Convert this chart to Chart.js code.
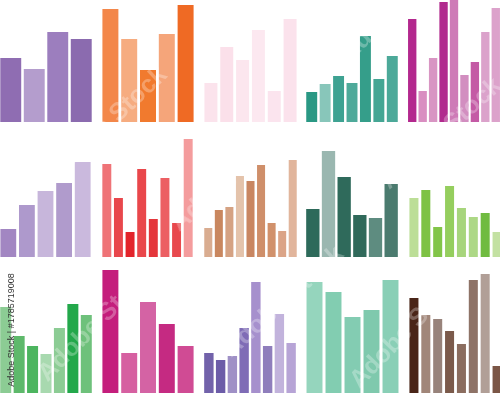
<!DOCTYPE html>
<html>
<head>
<meta charset="utf-8">
<script src="https://cdn.jsdelivr.net/npm/chart.js@4/dist/chart.umd.min.js"></script>
<style>
  html, body { margin:0; padding:0; background:#ffffff; }
  #stage { position:relative; width:500px; height:393px; overflow:hidden; background:#ffffff; }
  #stage canvas { position:absolute; }
  .wm { position:absolute; font-family:"Liberation Sans", Arial, sans-serif; font-weight:bold; font-size:25px;
        color:rgba(255,255,255,0.28); white-space:nowrap; transform-origin:center center; pointer-events:none; }
  #credit { position:absolute; left:11px; top:330px; transform:translate(-50%,-50%) rotate(-90deg);
        font-family:"Liberation Sans", Arial, sans-serif; font-size:9px; color:#333; white-space:nowrap; }
</style>
</head>
<body>
<div id="stage"></div>
<script>
// ---- data: bar heights (pixel units) ----
const panel1Values  = [64, 53, 90, 83];
const panel1Colors  = ['#8F6DB2','#B49DCD','#9C7EBE','#8B6BAF'];
const panel2Values  = [113, 83, 52, 88, 117];
const panel2Colors  = ['#F3874A','#F6AC80','#F17A2E','#F5A57A','#EF6A24'];
const panel3Values  = [39, 75, 62, 92, 31, 103];
const panel3Colors  = ['#FBE3EC','#FBE0EA','#FCE6EE','#FCE8F0','#FBE4EE','#FBE2EC'];
const panel4Values  = [30, 38, 46, 39, 86, 43, 66];
const panel4Colors  = ['#2A9884','#88C6BA','#3EA292','#4EAA9A','#359E8A','#45A694','#4CA999'];
const panel5Values  = [103, 31, 64, 120, 122, 47, 60, 90, 114];
const panel5Colors  = ['#B3288E','#D98EC1','#D895C3','#B12A8E','#CE7BB7','#D28EC0','#C45AA5','#DBA2CB','#DCA2CB'];

const panel6Values  = [28, 52, 66, 74, 95];
const panel6Colors  = ['#A286C2','#AE99CC','#C7B6DB','#B09BCC','#CAB9DD'];
const panel7Values  = [93, 59, 25, 88, 38, 79, 34, 118];
const panel7Colors  = ['#EF7377','#E8474C','#E3242B','#E9474B','#E4363B','#EC5F63','#E8494E','#F49C9D'];
const panel8Values  = [29, 47, 50, 81, 76, 92, 34, 26, 97];
const panel8Colors  = ['#D9AC90','#C9875F','#D5A283','#E4C3AB','#C98661','#CF8F6A','#D1916B','#DBA487','#E1B59C'];
const panel9Values  = [48, 106, 80, 42, 39, 73];
const panel9Colors  = ['#2D6A5A','#9AB7B0','#2F6A5B','#30695A','#5E8C80','#4B7B6F'];
const panel10Values = [59, 67, 30, 71, 49, 40, 44, 25];
const panel10Colors = ['#BCDE97','#7EC244','#82C548','#95CE5E','#A7D57C','#ADD886','#70BB40','#C3E1A2'];

const panel11Values = [86, 57, 47, 39, 65, 89, 78];
const panel11Colors = ['#8CCC94','#5EB96B','#4CB55F','#A8D9AF','#8CCC94','#23A84B','#6EC17B'];
const panel12Values = [123, 40, 91, 69, 47];
const panel12Colors = ['#C41E7C','#D660A1','#D463A4','#C52A82','#D04B94'];
const panel13Values = [40, 33, 37, 65, 111, 47, 79, 50];
const panel13Colors = ['#7262AA','#6C5CA8','#9F90C6','#7F6CB6','#A690CD','#8F7EBC','#C2B3DC','#B7A4D6'];
const panel14Values = [111, 101, 76, 83, 113];
const panel14Colors = ['#95D5BD','#82CDB1','#83CCB2','#7FC9AD','#89CFB6'];
const panel15Values = [95, 78, 74, 62, 49, 113, 119, 27];
const panel15Colors = ['#4A2518','#A18679','#98837B','#7B5A4B','#8B6D5F','#8E7367','#B19F97','#7B5646'];

const watermarkText = 'Adobe Stock';
const creditText = 'Adobe Stock | #1785719008';

// ---- layout (positions / sizes only) ----
const rows = [ {top:0, h:122}, {top:130, h:127}, {top:263, h:130} ];
const panels = [
  {v:panel1Values,  c:panel1Colors,  row:0, left:-1,  w:94, bp:0.89},
  {v:panel2Values,  c:panel2Colors,  row:0, left:101, w:94, bp:0.85},
  {v:panel3Values,  c:panel3Colors,  row:0, left:203, w:95, bp:0.82},
  {v:panel4Values,  c:panel4Colors,  row:0, left:305, w:94, bp:0.815},
  {v:panel5Values,  c:panel5Colors,  row:0, left:407, w:94, bp:0.8},
  {v:panel6Values,  c:panel6Colors,  row:1, left:-1,  w:93, bp:0.85},
  {v:panel7Values,  c:panel7Colors,  row:1, left:101, w:93, bp:0.77},
  {v:panel8Values,  c:panel8Colors,  row:1, left:203, w:95, bp:0.76},
  {v:panel9Values,  c:panel9Colors,  row:1, left:305, w:94, bp:0.85},
  {v:panel10Values, c:panel10Colors, row:1, left:408, w:95, bp:0.76},
  {v:panel11Values, c:panel11Colors, row:2, left:-1,  w:94, bp:0.82},
  {v:panel12Values, c:panel12Colors, row:2, left:101, w:94, bp:0.85},
  {v:panel13Values, c:panel13Colors, row:2, left:203, w:94, bp:0.8},
  {v:panel14Values, c:panel14Colors, row:2, left:305, w:95, bp:0.84},
  {v:panel15Values, c:panel15Colors, row:2, left:408, w:95, bp:0.76}
];

const stage = document.getElementById('stage');
panels.forEach((p) => {
  const r = rows[p.row];
  const cv = document.createElement('canvas');
  cv.width = p.w; cv.height = r.h;
  cv.style.left = p.left + 'px'; cv.style.top = r.top + 'px';
  cv.style.width = p.w + 'px'; cv.style.height = r.h + 'px';
  stage.appendChild(cv);
  new Chart(cv, {
    type: 'bar',
    data: {
      labels: p.v.map((_, i) => String(i + 1)),
      datasets: [{ data: p.v, backgroundColor: p.c, borderWidth: 0,
                   barPercentage: p.bp, categoryPercentage: 1 }]
    },
    options: {
      responsive: false, animation: false, devicePixelRatio: 1,
      layout: { padding: 0 },
      plugins: { legend: { display: false }, tooltip: { enabled: false } },
      scales: {
        x: { display: false },
        y: { display: false, min: 0, max: r.h }
      }
    }
  });
});

// faint diagonal watermarks
const wmSpots = [[70,-5,-42],[106,122,-43],[232,176,-40],[398,3,-44],[440,132,-42],[95,322,-45],[282,300,-42],[406,328,-46]];
wmSpots.forEach(([x,y,a]) => {
  const d = document.createElement('div');
  d.className = 'wm';
  d.textContent = watermarkText;
  stage.appendChild(d);
  const w = d.offsetWidth, h = d.offsetHeight;
  d.style.left = (x - w/2) + 'px';
  d.style.top = (y - h/2) + 'px';
  d.style.transform = 'rotate(' + a + 'deg)';
});

const credit = document.createElement('div');
credit.id = 'credit';
credit.textContent = creditText;
stage.appendChild(credit);
</script>
</body>
</html>
